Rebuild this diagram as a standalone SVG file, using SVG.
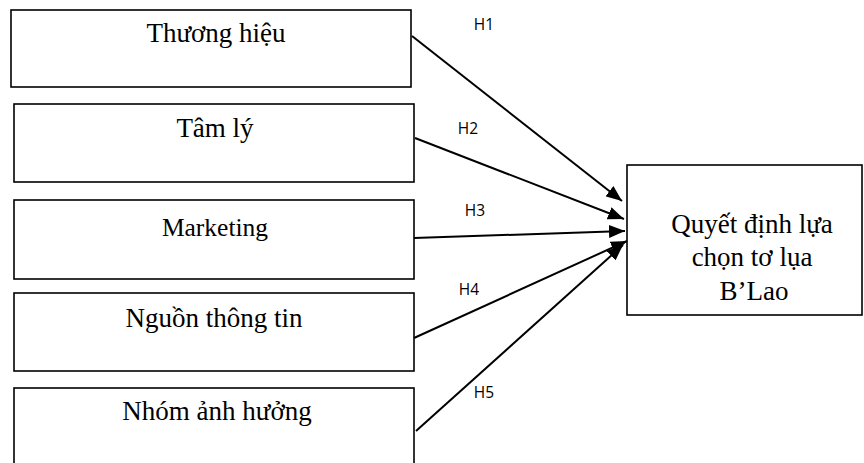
<svg xmlns="http://www.w3.org/2000/svg" width="864" height="463" viewBox="0 0 864 463">
<style>
.box{fill:#fff;stroke:#000;stroke-width:1.6}
.t{font-family:"Liberation Serif","Times New Roman",serif;font-size:27px;fill:#000;text-anchor:middle}
.m{font-size:25.5px}
.h{font-family:"Open Sans","Liberation Sans",sans-serif;font-size:15.5px;fill:#000;text-anchor:middle}
.c{stroke:#000;stroke-width:2;fill:none}
</style>
<defs>
<marker id="ah" markerUnits="userSpaceOnUse" markerWidth="17" markerHeight="13" refX="16" refY="6.5" orient="auto">
<path d="M0,0 L16,6.5 L0,13 Z" fill="#000"/>
</marker>
</defs>
<rect width="864" height="463" fill="#fff"/>
<g id="n1"><rect class="box" x="11" y="10" width="400" height="77"/><text class="t" x="216" y="42">Thương hiệu</text></g>
<g id="n2"><rect class="box" x="14" y="104" width="400" height="78"/><text class="t" x="215" y="137">Tâm lý</text></g>
<g id="n3"><rect class="box" x="14" y="200" width="400" height="79"/><text class="t m" x="215" y="236">Marketing</text></g>
<g id="n4"><rect class="box" x="14" y="293" width="400" height="78"/><text class="t" x="214" y="327">Nguồn thông tin</text></g>
<g id="n5"><rect class="box" x="14" y="388" width="400" height="90"/><text class="t" x="217" y="420">Nhóm ảnh hưởng</text></g>
<g id="target"><rect class="box" x="627" y="165" width="235" height="150"/>
<text class="t" x="752" y="233">Quyết định lựa</text>
<text class="t" x="752" y="266">chọn tơ lụa</text>
<text class="t" x="754" y="300">B’Lao</text></g>
<g id="connectors">
<line class="c" x1="412" y1="36" x2="622" y2="201" marker-end="url(#ah)"/>
<line class="c" x1="415" y1="138" x2="624" y2="219" marker-end="url(#ah)"/>
<line class="c" x1="414" y1="238" x2="625" y2="231" marker-end="url(#ah)"/>
<line class="c" x1="414" y1="338" x2="627" y2="241" marker-end="url(#ah)"/>
<line class="c" x1="416" y1="431" x2="623" y2="245" marker-end="url(#ah)"/>
<text class="h" x="484" y="30">H1</text>
<text class="h" x="468" y="134">H2</text>
<text class="h" x="475" y="216">H3</text>
<text class="h" x="469" y="295">H4</text>
<text class="h" x="484" y="398">H5</text>
</g>
</svg>
